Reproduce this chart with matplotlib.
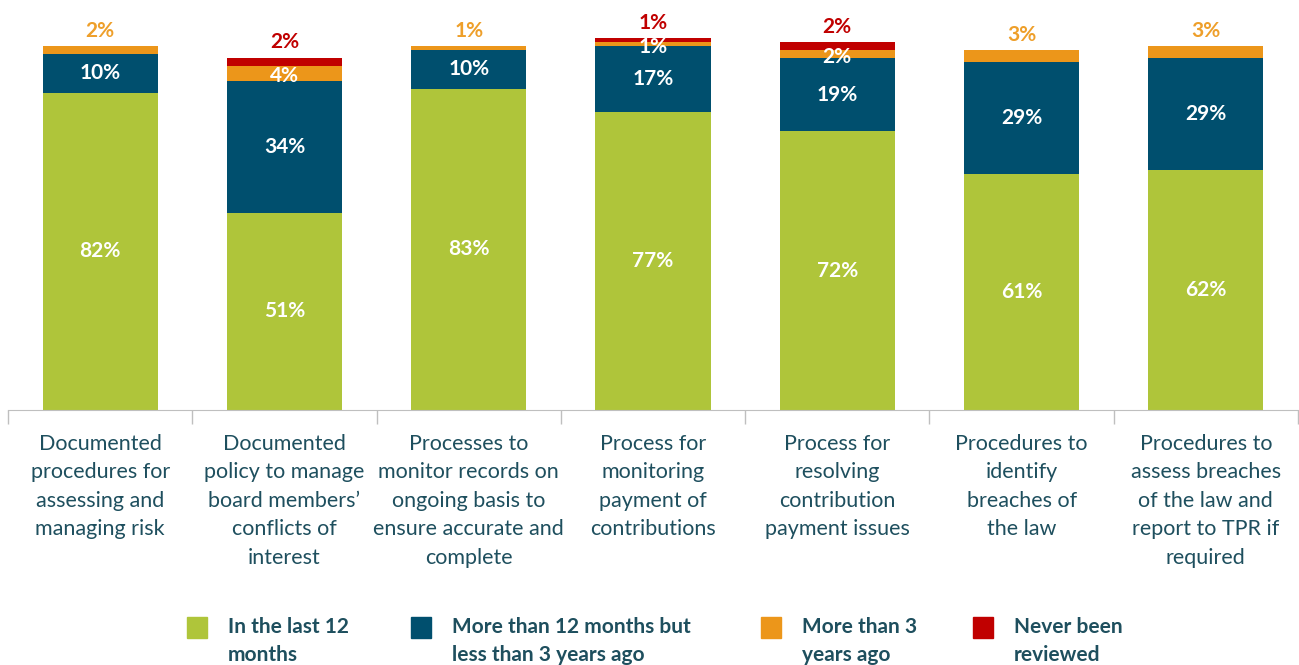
import matplotlib.pyplot as plt
from matplotlib.patches import Rectangle
import numpy as np

categories = [
    'Documented\nprocedures for\nassessing and\nmanaging risk',
    'Documented\npolicy to manage\nboard members\u2019\nconflicts of\ninterest',
    'Processes to\nmonitor records on\nongoing basis to\nensure accurate and\ncomplete',
    'Process for\nmonitoring\npayment of\ncontributions',
    'Process for\nresolving\ncontribution\npayment issues',
    'Procedures to\nidentify\nbreaches of\nthe law',
    'Procedures to\nassess breaches\nof the law and\nreport to TPR if\nrequired',
]
series_names = ['In the last 12\nmonths', 'More than 12 months but\nless than 3 years ago',
                'More than 3\nyears ago', 'Never been\nreviewed']
last_12 = [82, 51, 83, 77, 72, 61, 62]
twelve_to_3y = [10, 34, 10, 17, 19, 29, 29]
over_3y = [2, 4, 1, 1, 2, 3, 3]
never = [0, 2, 0, 1, 2, 0, 0]

colors = ['#AFC53A', '#004F6E', '#EC961A', '#C00000']
text_col = '#1E4F5E'

plt.rcParams['font.family'] = ['Lato', 'DejaVu Sans']

fig = plt.figure(figsize=(12.99, 6.65), dpi=100)
ax = fig.add_axes([8 / 1299, 255 / 665, 1290 / 1299, 387 / 665])

x = np.arange(len(categories))
w = 0.625
data = [last_12, twelve_to_3y, over_3y, never]
bottom = np.zeros(len(categories))
for k, vals in enumerate(data):
    vals = np.array(vals, dtype=float)
    ax.bar(x, vals, w, bottom=bottom, color=colors[k], zorder=2)
    for i, v in enumerate(vals):
        if v == 0:
            continue
        mid = bottom[i] + v / 2
        if k < 2:
            ax.text(x[i], mid, f'{int(v)}%', ha='center', va='center',
                    color='white', fontsize=15, fontweight='bold')
        elif k == 2:
            if never[i] > 0:
                ax.text(x[i], mid - 0.8, f'{int(v)}%', ha='center', va='center',
                        color='white', fontsize=15, fontweight='bold')
            else:
                ax.annotate(f'{int(v)}%', (x[i], bottom[i] + v), xytext=(0, 4),
                            textcoords='offset points', ha='center', va='bottom',
                            color='#EE9F2A', fontsize=15, fontweight='bold')
        else:
            ax.annotate(f'{int(v)}%', (x[i], bottom[i] + v), xytext=(0, 4),
                        textcoords='offset points', ha='center', va='bottom',
                        color='#C00000', fontsize=15, fontweight='bold')
    bottom += vals

ax.set_xlim(-0.5, len(categories) - 0.5)
ax.set_ylim(0, 100)
for s in ['top', 'right', 'left']:
    ax.spines[s].set_visible(False)
ax.spines['bottom'].set_color('#BFBFBF')
ax.set_yticks([])
ax.set_xticks(np.arange(-0.5, len(categories)), minor=False)
ax.set_xticklabels([])
ax.tick_params(axis='x', length=10, color='#BFBFBF', width=1)
for i, c in enumerate(categories):
    ax.annotate(c, (x[i], 0), xytext=(0, -17), textcoords='offset points',
                ha='center', va='top', fontsize=15.5, color=text_col,
                linespacing=1.53, annotation_clip=False)

# legend
leg_x = [187, 411, 761, 973]
for k, name in enumerate(series_names):
    fig.patches.append(Rectangle((leg_x[k] / 1299, 1 - 638 / 665), 20 / 1299, 21 / 665,
                                 transform=fig.transFigure, color=colors[k]))
    fig.text((leg_x[k] + 41) / 1299, 1 - 617 / 665, name, ha='left', va='top',
             fontsize=15, fontweight='bold', color=text_col, linespacing=1.5)

fig.savefig('out.png', dpi=100)
